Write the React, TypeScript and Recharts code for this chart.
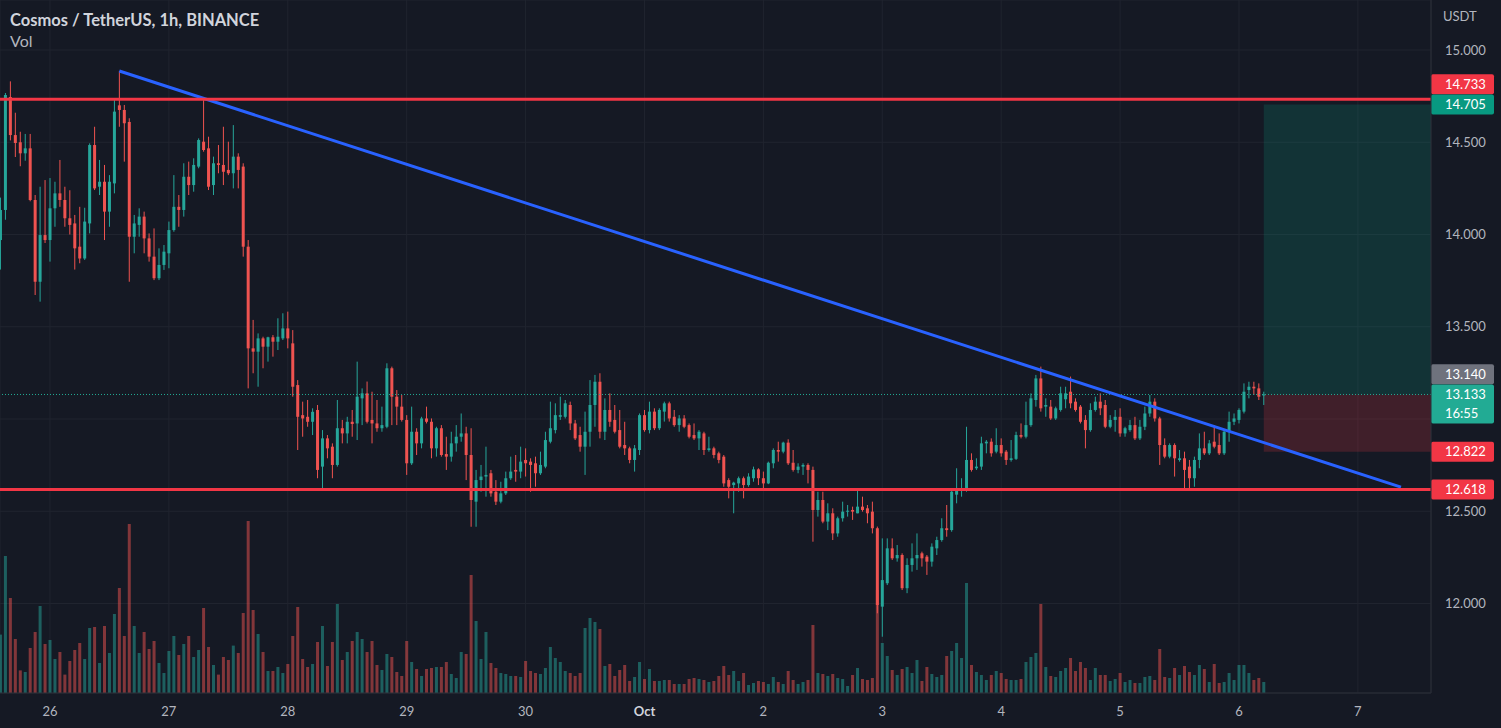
import React from "react";
import {
  ComposedChart,
  Bar,
  XAxis,
  YAxis,
  CartesianGrid,
  ReferenceLine,
  ReferenceArea,
} from "recharts";

// ---------- data (ATOM/USDT, 1h, Binance) ----------
// hour offset of first candle relative to Sep 26 00:00
const FIRST_HOUR = -10;

const OPEN = [
  13.970, 14.133, 14.745, 14.539, 14.500, 14.440, 14.467, 14.187, 13.744, 13.997,
  13.970, 14.142, 14.223, 14.187, 14.088, 14.060, 13.934, 13.870, 14.060, 14.485,
  14.259, 14.286, 14.124, 14.277, 14.700, 14.675, 14.610, 13.988, 14.052, 14.097,
  13.979, 13.880, 13.763, 13.835, 13.898, 14.024, 14.150, 14.133, 14.313, 14.268,
  14.368, 14.503, 14.467, 14.268, 14.386, 14.377, 14.350, 14.332, 14.422, 14.368,
  13.934, 13.383, 13.365, 13.437, 13.392, 13.443, 13.419, 13.437, 13.491, 13.410,
  13.184, 13.021, 13.012, 12.985, 13.049, 12.742, 12.895, 12.850, 12.751, 12.950,
  12.922, 12.985, 12.976, 13.112, 13.139, 12.995, 12.976, 12.950, 12.958, 13.275,
  13.121, 13.067, 12.995, 12.760, 12.931, 12.868, 13.003, 12.985, 12.841, 12.950,
  12.810, 12.796, 12.868, 12.904, 12.922, 12.805, 12.552, 12.669, 12.688, 12.706,
  12.606, 12.552, 12.597, 12.679, 12.724, 12.715, 12.778, 12.769, 12.760, 12.706,
  12.742, 12.877, 12.940, 13.012, 13.012, 13.076, 12.976, 12.913, 12.850, 12.931,
  13.076, 13.202, 12.931, 13.049, 12.995, 12.940, 12.859, 12.841, 12.778, 12.832,
  13.021, 12.940, 13.040, 12.950, 13.040, 13.085, 13.012, 12.967, 13.003, 12.967,
  12.913, 12.895, 12.922, 12.832, 12.841, 12.814, 12.796, 12.669, 12.642, 12.651,
  12.679, 12.642, 12.679, 12.727, 12.679, 12.651, 12.760, 12.832, 12.823, 12.872,
  12.763, 12.724, 12.742, 12.751, 12.724, 12.507, 12.561, 12.444, 12.489, 12.380,
  12.462, 12.498, 12.507, 12.489, 12.525, 12.516, 12.498, 12.408, 11.983, 12.110,
  12.299, 12.245, 12.263, 12.083, 12.209, 12.245, 12.272, 12.254, 12.227, 12.299,
  12.344, 12.408, 12.398, 12.590, 12.612, 12.615, 12.778, 12.733, 12.742, 12.868,
  12.877, 12.823, 12.859, 12.823, 12.778, 12.784, 12.913, 12.904, 12.967, 13.103,
  13.220, 13.067, 13.067, 13.003, 13.049, 13.107, 13.148, 13.094, 13.067, 12.995,
  12.940, 13.049, 13.094, 13.076, 12.958, 12.995, 13.012, 12.922, 12.940, 12.967,
  12.895, 12.958, 13.030, 13.094, 13.003, 12.859, 12.796, 12.859, 12.778, 12.787,
  12.742, 12.679, 12.778, 12.841, 12.814, 12.877, 12.859, 12.814, 12.931, 12.985,
  12.995, 13.040, 13.157, 13.175, 13.166, 13.130,
];

const HIGH = [
  14.200, 14.767, 14.830, 14.660, 14.557, 14.545, 14.545, 14.214, 14.259, 14.295,
  14.306, 14.286, 14.404, 14.259, 14.240, 14.106, 14.150, 14.145, 14.494, 14.584,
  14.404, 14.377, 14.322, 14.729, 14.886, 14.702, 14.630, 14.106, 14.142, 14.124,
  14.006, 14.033, 13.925, 13.943, 14.070, 14.322, 14.214, 14.386, 14.395, 14.413,
  14.521, 14.729, 14.530, 14.422, 14.485, 14.584, 14.503, 14.593, 14.440, 14.386,
  13.970, 13.537, 13.464, 13.446, 13.446, 13.455, 13.546, 13.573, 13.582, 13.482,
  13.211, 13.094, 13.103, 13.058, 13.076, 12.940, 12.913, 12.868, 13.103, 12.995,
  13.012, 13.049, 13.311, 13.166, 13.203, 13.148, 13.103, 13.067, 13.302, 13.284,
  13.157, 13.130, 13.021, 13.067, 12.950, 13.012, 13.067, 13.003, 12.958, 12.967,
  12.904, 12.931, 12.967, 13.030, 12.958, 12.950, 12.724, 12.751, 12.850, 12.724,
  12.669, 12.660, 12.715, 12.796, 12.805, 12.850, 12.841, 12.787, 12.796, 12.823,
  12.931, 13.094, 13.085, 13.121, 13.103, 13.094, 12.995, 12.958, 13.040, 13.211,
  13.239, 13.248, 13.112, 13.139, 13.076, 13.049, 12.985, 12.850, 12.859, 13.030,
  13.049, 13.094, 13.058, 13.058, 13.094, 13.094, 13.049, 13.021, 13.021, 12.976,
  12.976, 12.940, 12.931, 12.904, 12.850, 12.823, 12.805, 12.679, 12.660, 12.688,
  12.688, 12.706, 12.742, 12.733, 12.715, 12.769, 12.841, 12.877, 12.877, 12.890,
  12.832, 12.760, 12.760, 12.760, 12.742, 12.606, 12.606, 12.543, 12.516, 12.471,
  12.552, 12.534, 12.525, 12.615, 12.579, 12.534, 12.552, 12.417, 12.353, 12.353,
  12.353, 12.317, 12.272, 12.245, 12.326, 12.380, 12.281, 12.263, 12.326, 12.362,
  12.462, 12.534, 12.615, 12.733, 12.679, 12.958, 12.814, 12.787, 12.904, 12.886,
  12.895, 12.950, 12.895, 12.832, 12.886, 12.931, 12.976, 13.094, 13.139, 13.239,
  13.284, 13.112, 13.103, 13.067, 13.175, 13.175, 13.230, 13.112, 13.076, 13.021,
  13.085, 13.121, 13.139, 13.103, 13.021, 13.049, 13.058, 12.958, 12.995, 13.012,
  12.995, 13.067, 13.130, 13.112, 13.012, 12.895, 12.868, 12.868, 12.832, 12.823,
  12.778, 12.796, 12.922, 12.931, 12.886, 12.967, 12.922, 12.940, 13.040, 13.030,
  13.058, 13.193, 13.202, 13.202, 13.193, 13.148,
];

const LOW = [
  13.810, 14.080, 14.510, 14.420, 14.370, 14.400, 14.180, 13.672, 13.636, 13.954,
  13.853, 14.042, 14.150, 14.042, 14.000, 13.810, 13.844, 13.862, 14.006, 14.241,
  14.214, 13.970, 14.042, 14.223, 14.584, 14.395, 13.744, 13.898, 13.988, 13.898,
  13.853, 13.753, 13.753, 13.808, 13.817, 14.015, 14.042, 14.097, 14.214, 14.232,
  14.359, 14.449, 14.241, 14.214, 14.332, 14.268, 14.322, 14.250, 14.250, 13.880,
  13.166, 13.248, 13.175, 13.275, 13.311, 13.338, 13.374, 13.428, 13.383, 13.121,
  12.832, 12.904, 12.958, 12.913, 12.679, 12.615, 12.787, 12.679, 12.742, 12.868,
  12.868, 12.904, 12.886, 12.967, 12.976, 12.868, 12.931, 12.931, 12.950, 12.967,
  12.967, 12.986, 12.697, 12.751, 12.805, 12.841, 12.976, 12.787, 12.796, 12.796,
  12.724, 12.769, 12.823, 12.877, 12.669, 12.416, 12.416, 12.606, 12.579, 12.579,
  12.534, 12.543, 12.588, 12.670, 12.660, 12.679, 12.688, 12.606, 12.633, 12.697,
  12.733, 12.868, 12.922, 12.995, 13.003, 12.940, 12.886, 12.823, 12.697, 12.850,
  12.958, 12.895, 12.886, 12.958, 12.922, 12.841, 12.805, 12.760, 12.715, 12.805,
  12.931, 12.922, 12.940, 12.940, 12.986, 12.986, 12.958, 12.931, 12.950, 12.895,
  12.886, 12.832, 12.805, 12.823, 12.787, 12.760, 12.633, 12.570, 12.489, 12.606,
  12.570, 12.633, 12.660, 12.642, 12.624, 12.647, 12.733, 12.769, 12.814, 12.751,
  12.715, 12.706, 12.697, 12.651, 12.335, 12.471, 12.435, 12.398, 12.344, 12.362,
  12.444, 12.471, 12.453, 12.489, 12.498, 12.435, 12.380, 11.947, 11.820, 12.100,
  12.236, 12.227, 12.073, 12.056, 12.173, 12.182, 12.200, 12.155, 12.200, 12.263,
  12.335, 12.362, 12.389, 12.543, 12.579, 12.606, 12.715, 12.724, 12.724, 12.814,
  12.796, 12.814, 12.796, 12.751, 12.769, 12.778, 12.895, 12.895, 12.958, 13.067,
  13.040, 13.012, 12.995, 12.995, 13.040, 13.058, 13.058, 13.040, 12.976, 12.841,
  12.931, 13.040, 13.021, 12.950, 12.950, 12.931, 12.904, 12.904, 12.931, 12.886,
  12.886, 12.940, 13.012, 12.986, 12.751, 12.787, 12.787, 12.688, 12.769, 12.625,
  12.625, 12.633, 12.733, 12.805, 12.805, 12.841, 12.805, 12.805, 12.877, 12.967,
  12.976, 13.030, 13.112, 13.130, 13.103, 13.076,
];

const CLOSE = [
  14.133, 14.756, 14.539, 14.496, 14.440, 14.467, 14.187, 13.744, 13.997, 13.970,
  14.142, 14.223, 14.187, 14.088, 14.052, 13.925, 13.870, 14.070, 14.485, 14.250,
  14.286, 14.124, 14.286, 14.666, 14.675, 14.603, 13.988, 14.060, 14.097, 13.979,
  13.880, 13.763, 13.835, 13.907, 14.024, 14.150, 14.133, 14.313, 14.268, 14.377,
  14.512, 14.458, 14.259, 14.386, 14.377, 14.340, 14.332, 14.422, 14.350, 13.934,
  13.383, 13.365, 13.437, 13.392, 13.443, 13.419, 13.446, 13.491, 13.437, 13.175,
  13.012, 13.003, 12.985, 13.039, 12.724, 12.895, 12.841, 12.751, 12.950, 12.922,
  12.985, 12.973, 13.121, 13.139, 12.985, 12.976, 12.950, 12.967, 13.275, 13.121,
  13.067, 12.995, 12.760, 12.931, 12.868, 13.003, 12.985, 12.841, 12.950, 12.805,
  12.796, 12.868, 12.904, 12.922, 12.805, 12.561, 12.669, 12.688, 12.697, 12.597,
  12.552, 12.597, 12.679, 12.715, 12.715, 12.769, 12.760, 12.751, 12.706, 12.751,
  12.886, 12.950, 13.021, 13.021, 13.085, 12.976, 12.895, 12.850, 12.931, 13.076,
  13.202, 12.931, 13.049, 12.985, 12.931, 12.850, 12.841, 12.778, 12.841, 13.021,
  12.940, 13.040, 12.950, 13.049, 13.085, 13.003, 12.967, 13.003, 12.958, 12.904,
  12.895, 12.931, 12.832, 12.841, 12.805, 12.778, 12.651, 12.633, 12.655, 12.679,
  12.642, 12.688, 12.727, 12.679, 12.651, 12.763, 12.832, 12.823, 12.872, 12.760,
  12.724, 12.742, 12.751, 12.724, 12.507, 12.561, 12.444, 12.489, 12.380, 12.462,
  12.498, 12.503, 12.498, 12.525, 12.507, 12.489, 12.408, 11.992, 12.127, 12.299,
  12.245, 12.263, 12.083, 12.209, 12.245, 12.263, 12.245, 12.227, 12.308, 12.344,
  12.408, 12.398, 12.606, 12.612, 12.624, 12.778, 12.724, 12.742, 12.868, 12.877,
  12.814, 12.859, 12.814, 12.778, 12.787, 12.913, 12.904, 12.967, 13.112, 13.220,
  13.058, 13.076, 13.003, 13.058, 13.139, 13.139, 13.085, 13.049, 12.985, 12.940,
  13.049, 13.094, 13.058, 12.958, 12.995, 13.012, 12.922, 12.950, 12.967, 12.895,
  12.958, 13.030, 13.094, 13.003, 12.859, 12.796, 12.859, 12.787, 12.787, 12.724,
  12.679, 12.778, 12.841, 12.814, 12.868, 12.850, 12.814, 12.931, 12.985, 13.003,
  13.049, 13.148, 13.175, 13.166, 13.121, 13.133,
];

// volume in thousands of ATOM
const VOLUME_K = [
  292, 685, 475, 270, 113, 105, 225, 305, 435, 245,
  265, 170, 205, 92, 160, 215, 250, 170, 325, 330,
  150, 335, 200, 395, 525, 285, 845, 335, 200, 305,
  220, 260, 150, 100, 210, 285, 190, 245, 285, 180,
  215, 425, 230, 140, 92, 180, 165, 237, 200, 400,
  860, 415, 295, 205, 110, 110, 130, 100, 145, 285,
  430, 170, 130, 145, 255, 335, 135, 255, 445, 165,
  205, 260, 305, 270, 205, 260, 140, 115, 195, 180,
  105, 85, 260, 155, 120, 85, 120, 125, 130, 130,
  155, 95, 75, 205, 195, 590, 360, 170, 305, 150,
  125, 100, 95, 85, 85, 80, 160, 110, 100, 95,
  125, 230, 175, 155, 110, 100, 85, 100, 325, 375,
  355, 320, 135, 145, 85, 115, 140, 60, 80, 155,
  70, 120, 60, 60, 65, 65, 45, 45, 45, 70,
  75, 70, 65, 55, 60, 85, 135, 90, 110, 60,
  100, 40, 50, 60, 55, 45, 80, 55, 45, 110,
  65, 45, 55, 65, 340, 100, 95, 85, 95, 75,
  70, 35, 90, 125, 70, 65, 75, 515, 250, 185,
  115, 90, 120, 130, 100, 165, 60, 130, 95, 80,
  90, 185, 210, 250, 175, 550, 140, 105, 90, 65,
  90, 110, 100, 70, 65, 65, 70, 155, 180, 200,
  445, 130, 85, 80, 110, 125, 175, 110, 155, 125,
  65, 125, 90, 90, 60, 70, 100, 55, 65, 50,
  50, 80, 85, 65, 220, 80, 75, 125, 90, 135,
  105, 90, 140, 120, 55, 145, 50, 55, 100, 65,
  140, 140, 100, 65, 75, 55,
];

const DAY_TICKS = [0, 24, 48, 72, 96, 120, 144, 168, 192, 216, 240, 264];
const DAY_LABELS = ["26", "27", "28", "29", "30", "Oct", "2", "3", "4", "5", "6", "7"];
const PRICE_TICKS = [12, 12.5, 13, 13.5, 14, 14.5, 15];
// tick labels hidden behind the live-price tag in the original
const COVERED_TICKS = [13];

// drawings
const RESISTANCE = 14.733;
const SUPPORT = 12.618;
const TARGET = 14.705;
const ENTRY = 13.133;
const STOP = 12.822;
const PREV = 13.14;
const TREND = [
  { x: 14, y: 14.886 },
  { x: 272.7, y: 12.631 },
];
const POSITION_START = 245;

// ---------- view ----------
const W = 1501;
const H = 728;
const X_MIN = -10.09;
const X_MAX = 278.76;
const PRICE_MIN = 11.515;
const PRICE_MAX = 15.271;
const VOL_MAX = 3465;

const FONT = "Lato, 'Open Sans', sans-serif";
const BG = "#151924";
const GRID = "#20242f";
const AXIS_LINE = "#2a2e39";
const TEXT = "#b2b5be";
const UP = "#26a69a";
const DOWN = "#ef5350";
const UP_VOL = "rgba(38,166,154,0.5)";
const DOWN_VOL = "rgba(239,83,80,0.5)";
const LEVEL_RED = "#f23645";
const TREND_BLUE = "#2962ff";

const data = OPEN.map((o, i) => ({
  h: FIRST_HOUR + i,
  o,
  hi: HIGH[i],
  lo: LOW[i],
  c: CLOSE[i],
  v: VOLUME_K[i],
  range: [LOW[i], HIGH[i]],
}));

const Candle = (props: any) => {
  const { x, y, width, height, payload } = props;
  if (!payload || x == null || y == null) return null;
  const { o, c, hi, lo } = payload;
  const top = Math.min(y, y + height);
  const span = Math.abs(height);
  const ppu = hi > lo ? span / (hi - lo) : 0;
  const cx = x + width / 2;
  const bodyTop = top + (hi - Math.max(o, c)) * ppu;
  const bodyBot = top + (hi - Math.min(o, c)) * ppu;
  const color = c >= o ? UP : DOWN;
  return (
    <g>
      <line x1={cx} x2={cx} y1={top} y2={top + span} stroke={color} strokeWidth={1} />
      <rect x={x} y={bodyTop} width={width} height={Math.max(1, bodyBot - bodyTop)} fill={color} />
    </g>
  );
};

const VolumeBar = (props: any) => {
  const { x, y, width, height, payload } = props;
  if (!payload || !height) return null;
  return (
    <rect
      x={x}
      y={Math.min(y, y + height)}
      width={width}
      height={Math.abs(height)}
      fill={payload.c >= payload.o ? UP_VOL : DOWN_VOL}
    />
  );
};

const DayTick = (props: any) => {
  const { x, y, payload } = props;
  const idx = DAY_TICKS.indexOf(payload.value);
  const label = idx >= 0 ? DAY_LABELS[idx] : "";
  return (
    <text
      x={x}
      y={y + 23}
      textAnchor="middle"
      fill={label === "Oct" ? "#d1d4dc" : TEXT}
      fontWeight={label === "Oct" ? 700 : 400}
      fontSize={13}
      fontFamily={FONT}
    >
      {label}
    </text>
  );
};

const PriceTick = (props: any) => {
  const { x, y, payload } = props;
  if (COVERED_TICKS.includes(payload.value)) return <g />;
  return (
    <text x={x} y={y + 4.5} fill={TEXT} fontSize={13} fontFamily={FONT}>
      {Number(payload.value).toFixed(3)}
    </text>
  );
};

const Tag = (props: any) => {
  const { viewBox, text, sub, color, shift = 0 } = props;
  if (!viewBox) return null;
  const left = viewBox.x + viewBox.width;
  const cy = viewBox.y + shift;
  const h = sub ? 39 : 20;
  return (
    <g>
      <rect x={left} y={cy - 10} width={63} height={h} rx={2} fill={color} />
      <text x={left + 14} y={cy + 4.5} fill="#ffffff" fontSize={13} fontFamily={FONT}>
        {text}
      </text>
      {sub ? (
        <text x={left + 14} y={cy + 23.5} fill="#ffffff" fontSize={13} fontFamily={FONT}>
          {sub}
        </text>
      ) : null}
    </g>
  );
};

export default function App() {
  return (
    <div
      style={{
        position: "absolute",
        left: 0,
        top: 0,
        width: W,
        height: H,
        background: BG,
        overflow: "hidden",
        fontFamily: FONT,
      }}
    >
      <ComposedChart width={W} height={H} data={data} margin={{ top: 0, right: 0, bottom: 0, left: 0 }}>
        <CartesianGrid stroke={GRID} strokeWidth={1} />
        <XAxis
          xAxisId={0}
          type="number"
          dataKey="h"
          domain={[X_MIN, X_MAX]}
          allowDataOverflow
          ticks={DAY_TICKS}
          interval={0}
          tick={<DayTick />}
          tickSize={0}
          tickMargin={0}
          tickLine={false}
          height={35}
          axisLine={{ stroke: AXIS_LINE }}
        />
        <XAxis xAxisId="vx" type="number" dataKey="h" domain={[X_MIN, X_MAX]} allowDataOverflow hide />
        <YAxis
          yAxisId={0}
          orientation="right"
          domain={[PRICE_MIN, PRICE_MAX]}
          allowDataOverflow
          ticks={PRICE_TICKS}
          interval={0}
          width={70}
          tick={<PriceTick />}
          tickSize={0}
          tickMargin={14}
          tickLine={false}
          axisLine={{ stroke: AXIS_LINE }}
        />
        <YAxis yAxisId="vol" domain={[0, VOL_MAX]} allowDataOverflow hide />

        <Bar xAxisId="vx" yAxisId="vol" dataKey="v" barSize={3} shape={VolumeBar} isAnimationActive={false} />

        <ReferenceLine y={ENTRY} stroke="#22ab94" strokeWidth={1} strokeDasharray="1 2" ifOverflow="visible" />
        <ReferenceLine segment={TREND} stroke={TREND_BLUE} strokeWidth={3} ifOverflow="visible" />

        <Bar dataKey="range" barSize={3} shape={Candle} isAnimationActive={false} />

        <ReferenceArea
          x1={POSITION_START}
          x2={X_MAX}
          y1={ENTRY}
          y2={TARGET}
          fill="#089981"
          fillOpacity={0.2}
          stroke="none"
          ifOverflow="visible"
        />
        <ReferenceArea
          x1={POSITION_START}
          x2={X_MAX}
          y1={STOP}
          y2={ENTRY}
          fill="#f23645"
          fillOpacity={0.2}
          stroke="none"
          ifOverflow="visible"
        />

        <ReferenceLine y={RESISTANCE} stroke={LEVEL_RED} strokeWidth={3} ifOverflow="visible"
          label={<Tag text="14.733" color="#f23645" shift={-15} />} />
        <ReferenceLine y={SUPPORT} stroke={LEVEL_RED} strokeWidth={3} ifOverflow="visible"
          label={<Tag text="12.618" color="#f23645" />} />
        <ReferenceLine y={TARGET} stroke="none" ifOverflow="visible"
          label={<Tag text="14.705" color="#089981" />} />
        <ReferenceLine y={PREV} stroke="none" ifOverflow="visible"
          label={<Tag text="13.140" color="#6f727d" shift={-19} />} />
        <ReferenceLine y={ENTRY} stroke="none" ifOverflow="visible"
          label={<Tag text="13.133" sub="16:55" color="#22ab94" />} />
        <ReferenceLine y={STOP} stroke="none" ifOverflow="visible"
          label={<Tag text="12.822" color="#f23645" />} />
      </ComposedChart>

      <div
        style={{
          position: "absolute",
          left: 10,
          top: 10,
          fontSize: 16.5,
          fontWeight: 700,
          color: "#d1d4dc",
          fontFamily: FONT,
          whiteSpace: "nowrap",
        }}
      >
        Cosmos / TetherUS, 1h, BINANCE
      </div>
      <div
        style={{
          position: "absolute",
          left: 10,
          top: 31,
          fontSize: 16,
          color: "#b2b5be",
          fontFamily: FONT,
        }}
      >
        Vol
      </div>
      <div
        style={{
          position: "absolute",
          left: 1443,
          top: 8,
          fontSize: 13,
          color: TEXT,
          fontFamily: FONT,
        }}
      >
        USDT
      </div>
    </div>
  );
}
